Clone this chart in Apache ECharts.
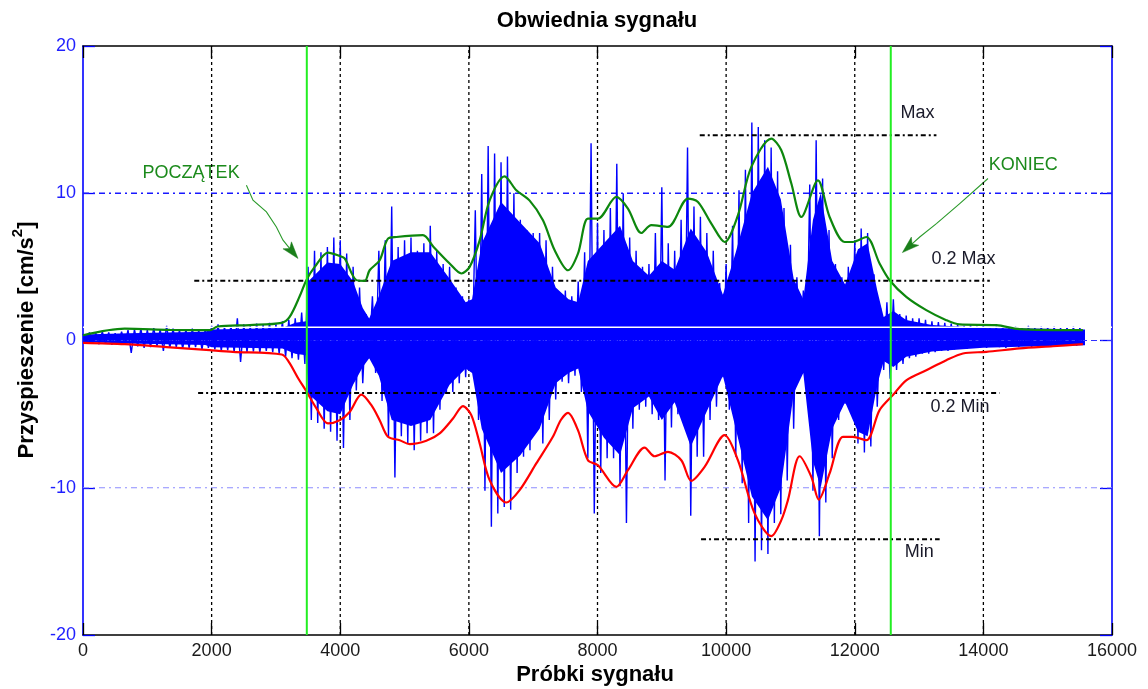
<!DOCTYPE html>
<html>
<head>
<meta charset="utf-8">
<script src="https://cdn.jsdelivr.net/npm/echarts@6/dist/echarts.min.js"></script>
<style>
  html, body { margin: 0; padding: 0; background: #ffffff; }
  #chart { width: 1148px; height: 689px; }
</style>
</head>
<body>
<div id="chart"></div>
<script>
// ---- signal: positive / negative peak of every 100-sample block ----
const blockSize = 100;
const peakHigh = [
  0.45, 0.55, 0.5, 0.6, 0.55, 0.5, 0.6, 0.7, 0.75, 0.8,
  0.7, 0.85, 0.75, 1.0, 0.8, 0.7, 0.75, 0.8, 0.7, 0.75,
  1.0, 1.1, 0.95, 1.05, 1.5, 1.1, 1.0, 1.15, 1.05, 1.2,
  1.1, 1.3, 1.4, 1.5, 1.9, 5.0, 6.1, 6.0, 6.35, 7.0,
  6.8, 5.9, 5.0, 3.6, 1.8, 3.0, 6.1, 6.8, 9.1, 6.35,
  6.8, 7.0, 6.1, 6.6, 7.8, 6.1, 5.2, 5.0, 3.6, 3.0,
  2.8, 8.85, 11.3, 13.2, 12.7, 12.1, 12.5, 10.0, 8.2, 7.5,
  7.3, 7.3, 6.8, 5.0, 3.1, 3.4, 3.0, 4.0, 6.0, 13.4,
  8.0, 7.5, 9.0, 12.0, 10.0, 7.0, 6.1, 5.0, 5.2, 7.3,
  10.4, 6.6, 6.1, 8.2, 13.1, 9.1, 8.4, 7.3, 6.1, 3.9,
  5.2, 7.8, 10.2, 11.6, 14.8, 14.5, 13.6, 13.1, 11.5, 9.0,
  6.5, 4.3, 3.4, 10.6, 13.6, 11.0, 7.5, 5.2, 4.3, 5.0,
  6.8, 7.6, 7.3, 4.5, 2.2, 2.6, 2.8, 1.8, 1.7, 1.5,
  1.5, 1.4, 1.3, 1.25, 1.2, 1.15, 1.1, 1.0, 1.05, 0.95,
  1.0, 0.9, 0.95, 1.0, 0.9, 0.95, 0.9, 1.0, 0.85, 0.95,
  0.9, 0.95, 0.85, 0.9, 0.95, 0.85
];
const peakLow = [
  -0.15, -0.2, -0.25, -0.2, -0.3, -0.2, -0.25, -0.85, -0.4, -0.5,
  -0.45, -0.4, -0.7, -0.5, -0.45, -0.55, -0.5, -0.45, -0.6, -0.5,
  -0.6, -0.7, -0.65, -0.8, -1.45, -0.8, -0.75, -0.85, -0.7, -0.8,
  -0.9, -1.1, -1.2, -1.3, -1.6, -5.4, -5.6, -6.0, -6.2, -6.8,
  -7.3, -5.4, -3.4, -2.9, -1.2, -2.2, -4.1, -6.5, -9.3, -6.5,
  -7.0, -7.45, -6.8, -6.3, -6.3, -4.7, -3.6, -3.5, -2.9, -2.5,
  -2.0, -5.4, -10.2, -12.65, -11.75, -11.3, -11.5, -9.0, -7.9, -7.45,
  -5.4, -7.0, -5.4, -4.0, -2.8, -2.9, -2.4, -3.5, -8.0, -11.75,
  -9.0, -8.0, -8.0, -9.9, -12.4, -6.0, -4.7, -4.5, -5.0, -5.4,
  -9.5, -5.9, -5.0, -5.4, -11.9, -7.9, -7.9, -5.4, -4.5, -2.5,
  -4.7, -7.9, -9.7, -12.4, -15.0, -14.25, -14.5, -12.4, -11.8, -9.5,
  -6.0, -1.8, -2.9, -10.2, -13.3, -11.0, -8.0, -5.4, -4.3, -4.0,
  -7.0, -7.6, -7.2, -4.5, -2.0, -2.6, -2.0, -1.6, -1.2, -1.1,
  -0.9, -0.9, -0.8, -0.7, -0.7, -0.6, -0.5, -0.55, -0.5, -0.45,
  -0.5, -0.4, -0.45, -0.5, -0.4, -0.45, -0.35, -0.45, -0.4, -0.35,
  -0.4, -0.3, -0.35, -0.3, -0.35, -0.3
];

// densely filled part of the trace [sample, upper edge, lower edge]
const bodySamples = [0, 700, 1900, 2000, 3100, 3300, 3470, 3500, 3800, 4000, 4200, 4350, 4450, 4600, 4800, 5100, 5400, 5700, 5950, 6050, 6200, 6500, 6800, 7100, 7350, 7550, 7700, 7850, 8100, 8350, 8550, 8800, 9000, 9200, 9450, 9700, 9950, 10150, 10400, 10650, 10850, 11050, 11200, 11350, 11470, 11650, 11850, 12050, 12200, 12350, 12450, 12600, 12800, 13200, 14000, 15000, 15580];
const bodyHigh = [0.4, 0.5, 0.6, 0.75, 0.85, 1.2, 1.3, 4.0, 5.3, 5.2, 4.0, 2.2, 1.5, 3.0, 5.4, 6.0, 6.0, 4.2, 2.6, 2.8, 6.6, 9.4, 8.0, 6.6, 3.6, 2.8, 2.6, 5.4, 6.6, 7.8, 5.4, 4.4, 5.4, 4.8, 7.6, 6.0, 3.1, 6.0, 10.0, 11.8, 9.6, 4.2, 2.8, 8.2, 10.0, 5.4, 3.8, 6.2, 6.6, 3.4, 1.6, 2.0, 1.4, 1.05, 0.85, 0.8, 0.75];
const bodyLow = [-0.1, -0.2, -0.3, -0.45, -0.55, -0.9, -1.0, -3.6, -4.8, -5.0, -3.0, -1.8, -1.2, -2.4, -5.4, -5.8, -5.4, -3.0, -1.9, -2.2, -6.0, -9.0, -7.8, -6.0, -2.9, -2.2, -1.9, -4.8, -6.6, -7.8, -4.6, -3.8, -5.4, -4.2, -7.2, -4.8, -2.4, -6.0, -10.6, -12.2, -10.0, -3.6, -2.2, -8.2, -10.0, -6.0, -4.2, -6.2, -6.5, -3.0, -1.4, -1.8, -1.1, -0.75, -0.5, -0.38, -0.32];

// ---- envelopes [sample, value] ----
const upperEnvelope = [
  [0, 0.36], [648, 0.8], [1351, 0.72], [1970, 0.7], [2094, 0.95], [2592, 1.05], [3090, 1.2],
  [3213, 1.6], [3369, 3.0], [3473, 4.1], [3603, 5.0], [3809, 5.97], [3991, 5.74], [4069, 5.57],
  [4251, 4.1], [4380, 4.05], [4457, 4.77], [4613, 5.45], [4742, 6.92], [4873, 7.03], [5286, 7.15],
  [5442, 6.4], [5701, 5.23], [5883, 4.55], [6012, 5.0], [6168, 6.8], [6323, 9.52], [6556, 11.15],
  [6738, 10.2], [6945, 9.5], [7152, 8.17], [7334, 6.13], [7541, 4.77], [7696, 5.9], [7851, 8.28],
  [8007, 8.28], [8293, 9.75], [8473, 8.96], [8682, 7.3], [8837, 7.83], [9095, 7.71], [9406, 9.64],
  [9562, 9.41], [9770, 7.94], [9977, 6.69], [10183, 8.5], [10392, 11.79], [10703, 13.71],
  [10858, 12.92], [11014, 10.66], [11169, 8.39], [11427, 10.88], [11609, 8.39], [11842, 6.69],
  [11971, 6.69], [12180, 7.03], [12386, 5.23], [12542, 4.09], [12801, 2.96], [13112, 2.06],
  [13423, 1.38], [13630, 1.09], [14201, 1.04], [14563, 0.77], [15547, 0.7]
];
const lowerEnvelope = [
  [0, -0.16], [650, -0.25], [1300, -0.45], [1970, -0.66], [2330, -0.77], [3090, -0.95],
  [3200, -1.45], [3350, -2.6], [3473, -3.45], [3628, -4.6], [3809, -5.63], [3991, -5.41],
  [4146, -4.85], [4328, -3.68], [4484, -4.39], [4613, -5.41], [4742, -6.54], [4924, -6.77],
  [5080, -7.04], [5339, -6.81], [5546, -6.31], [5753, -5.3], [5908, -4.46], [6038, -5.07],
  [6168, -6.99], [6323, -9.48], [6582, -11.0], [6789, -10.16], [7048, -8.35], [7306, -6.54],
  [7430, -5.4], [7541, -4.91], [7696, -6.09], [7851, -8.13], [8007, -8.47], [8293, -9.94],
  [8473, -8.81], [8733, -7.27], [8888, -7.86], [9095, -7.56], [9303, -8.13], [9458, -9.53],
  [9665, -8.58], [9977, -6.43], [10183, -8.13], [10443, -11.74], [10703, -13.29], [10858, -12.2],
  [10961, -10.84], [11143, -7.86], [11325, -9.26], [11440, -10.8], [11609, -9.03], [11816, -6.54],
  [11971, -6.54], [12180, -6.77], [12386, -4.73], [12593, -3.71], [12801, -2.7], [13112, -2.02],
  [13423, -1.34], [13682, -0.88], [14046, -0.77], [14563, -0.54], [15081, -0.39], [15547, -0.25]
];

// ---- event boundaries and reference levels ----
const eventStart = 3480;
const eventEnd = 12560;
const meanLevel = 0.9;
const levelMax = { value: 13.94, from: 9590, to: 13270 };
const levelMax02 = { value: 4.05, from: 1730, to: 14100 };
const levelMin02 = { value: -3.56, from: 1790, to: 14250 };
const levelMin = { value: -13.49, from: 9610, to: 13320 };

// ---- axes ----
const xMin = 0, xMax = 16000, xStep = 2000;
const yMin = -20, yMax = 20, yStep = 10;
const xGridTicks = [2000, 4000, 6000, 8000, 10000, 12000, 14000];
const yGridTicks = [-10, 0, 10];

const FONT = "'Liberation Sans', Arial, sans-serif";

// the trace swings from the positive peak to the negative peak of each block
const trace = [];
for (let i = 0; i < peakHigh.length; i++) {
  trace.push([i * blockSize, peakHigh[i]]);
  trace.push([i * blockSize + blockSize / 2, peakLow[i]]);
}
const bodyUp = bodySamples.map((s, i) => [s, bodyHigh[i]]);
const bodyDown = bodySamples.map((s, i) => [s, bodyLow[i]]);

function segment(name, pts, style, z) {
  return {
    name, type: 'line', data: pts, symbol: 'none', silent: true,
    animation: false, lineStyle: style, z
  };
}

const series = [];
// grid lines
xGridTicks.forEach(t => series.push(segment('gx' + t, [[t, yMin], [t, yMax]],
  { color: '#000', width: 1.3, type: [3, 3] }, 1)));
const yGridStyles = {
  '-10': { color: '#8c8cff', width: 1, type: [6, 4, 2, 4] },
  '0': { color: '#3030ff', width: 1.2, type: [6, 4, 2, 4] },
  '10': { color: '#1818ff', width: 1.3, type: [6, 4, 2, 4] }
};
yGridTicks.forEach(t => series.push(segment('gy' + t, [[xMin, t], [xMax, t]], yGridStyles[String(t)], 1)));

// signal body and trace
[['bodyUp', bodyUp], ['bodyDown', bodyDown]].forEach(([n, d]) => series.push({
  name: n, type: 'line', data: d, symbol: 'none', silent: true, animation: false,
  lineStyle: { width: 0 }, areaStyle: { color: '#0000ff', opacity: 1, origin: 0 }, z: 2
}));
series.push({
  name: 'trace', type: 'line', data: trace, symbol: 'none', silent: true, animation: false,
  sampling: null, lineStyle: { color: '#0000ff', width: 1.4, join: 'bevel' }, z: 2
});
series.push(segment('mean', [[xMin, meanLevel], [xMax, meanLevel]], { color: '#ffffff', width: 1.5 }, 3));

// reference levels
[levelMax, levelMax02, levelMin02, levelMin].forEach((L, k) => series.push(segment('lvl' + k,
  [[L.from, L.value], [L.to, L.value]], { color: '#000', width: 2, type: [5, 3, 2, 3] }, 4)));

// envelopes
series.push({ name: 'upper', type: 'line', data: upperEnvelope, symbol: 'none', smooth: 0.3,
  silent: true, animation: false, lineStyle: { color: '#0d870d', width: 2.2 }, z: 5 });
series.push({ name: 'lower', type: 'line', data: lowerEnvelope, symbol: 'none', smooth: 0.3,
  silent: true, animation: false, lineStyle: { color: '#ff0000', width: 2.2 }, z: 5 });

// event boundaries
[eventStart, eventEnd].forEach((t, k) => series.push(segment('event' + k, [[t, yMin], [t, yMax]],
  { color: '#22ee22', width: 2 }, 6)));

const chart = echarts.init(document.getElementById('chart'), null, { renderer: 'canvas' });

const plain = v => String(v);
const tickLabelX = { fontFamily: FONT, fontSize: 18, color: '#1a1a1a', margin: 7, formatter: plain };
const tickLabelY = { fontFamily: FONT, fontSize: 18, color: '#1f1fff', margin: 7, formatter: plain };

function axisBase(extra) {
  return Object.assign({ type: 'value', splitLine: { show: false } }, extra);
}

const option = {
  backgroundColor: '#ffffff',
  animation: false,
  grid: { left: 83, right: 36, top: 46, bottom: 54, containLabel: false },
  xAxis: [
    axisBase({ min: xMin, max: xMax, interval: xStep, position: 'bottom',
      axisLine: { onZero: false, lineStyle: { color: '#000', width: 1.6 } },
      axisTick: { inside: true, length: 12, lineStyle: { color: '#000', width: 1.3 } },
      axisLabel: tickLabelX }),
    axisBase({ min: xMin, max: xMax, interval: xStep, position: 'top',
      axisLine: { onZero: false, lineStyle: { color: '#000', width: 1.6 } },
      axisTick: { inside: true, length: 12, lineStyle: { color: '#000', width: 1.3 } },
      axisLabel: { show: false } })
  ],
  yAxis: [
    axisBase({ min: yMin, max: yMax, interval: yStep, position: 'left',
      axisLine: { show: true, onZero: false, lineStyle: { color: '#0000ff', width: 1.6 } },
      axisTick: { show: true, inside: true, length: 12, lineStyle: { color: '#0000ff', width: 1.3 } },
      axisLabel: tickLabelY }),
    axisBase({ min: yMin, max: yMax, interval: yStep, position: 'right',
      axisLine: { show: true, onZero: false, lineStyle: { color: '#0000ff', width: 1.6 } },
      axisTick: { show: true, inside: true, length: 12, lineStyle: { color: '#0000ff', width: 1.3 } },
      axisLabel: { show: false } })
  ],
  series: series.map(s => Object.assign({ xAxisIndex: 0, yAxisIndex: 0 }, s))
};
chart.setOption(option);

// ---- text and arrows ----
function toPx(p) { return chart.convertToPixel({ gridIndex: 0 }, p); }

const annotations = [
  { text: 'POCZĄTEK', at: [927, 11.36], color: '#1b8a1b' },
  { text: 'KONIEC', at: [14083, 11.9], color: '#1b8a1b' },
  { text: 'Max', at: [12710, 15.43], color: '#1a1a2a' },
  { text: '0.2 Max', at: [13192, 5.52], color: '#1a1a2a' },
  { text: '0.2 Min', at: [13177, -4.53], color: '#1a1a2a' },
  { text: 'Min', at: [12777, -14.35], color: '#1a1a2a' }
];
const arrows = [
  [[2541, 10.54], [2643, 9.53], [2852, 8.73], [3007, 7.71], [3110, 6.81], [3343, 5.57]],
  [[14072, 11.0], [13632, 9.30], [13270, 7.94], [13010, 7.03], [12741, 5.97]]
];

const graphics = [];
graphics.push({ type: 'text', x: 597, y: 21, silent: true,
  style: { text: 'Obwiednia sygnału', font: 'bold 22px ' + FONT, fill: '#000',
    textAlign: 'center', textVerticalAlign: 'middle' } });
graphics.push({ type: 'text', x: 595, y: 675, silent: true,
  style: { text: 'Próbki sygnału', font: 'bold 22px ' + FONT, fill: '#000',
    textAlign: 'center', textVerticalAlign: 'middle' } });
graphics.push({ type: 'text', x: 24, y: 340, rotation: Math.PI / 2, silent: true,
  style: {
    text: '{a|Przyspieszenie [cm/s}{b|2}{a|]}',
    textAlign: 'center', textVerticalAlign: 'middle',
    rich: {
      a: { fontFamily: FONT, fontWeight: 'bold', fontSize: 22, color: '#1010ff', lineHeight: 28, verticalAlign: 'bottom' },
      b: { fontFamily: FONT, fontWeight: 'bold', fontSize: 15, color: '#1010ff', lineHeight: 28, verticalAlign: 'top' }
    }
  } });

annotations.forEach(a => {
  const p = toPx(a.at);
  graphics.push({ type: 'text', x: p[0], y: p[1], silent: true,
    style: { text: a.text, font: '18px ' + FONT, fill: a.color,
      textAlign: 'left', textVerticalAlign: 'middle' } });
});

arrows.forEach(path => {
  const pts = path.map(toPx);
  const tip = pts[pts.length - 1];
  const prev = pts[pts.length - 2];
  const dx = tip[0] - prev[0], dy = tip[1] - prev[1];
  const len = Math.hypot(dx, dy);
  const ux = dx / len, uy = dy / len;
  const L = 17, W = 5.5;
  const base = [tip[0] - ux * L, tip[1] - uy * L];
  const line = pts.slice(0, -1).concat([[tip[0] - ux * L * 0.7, tip[1] - uy * L * 0.7]]);
  graphics.push({ type: 'polyline', silent: true, shape: { points: line },
    style: { stroke: '#2a9a2a', lineWidth: 1.1, fill: null } });
  graphics.push({ type: 'polygon', silent: true,
    shape: { points: [tip, [base[0] - uy * W, base[1] + ux * W], [base[0] + ux * 4, base[1] + uy * 4], [base[0] + uy * W, base[1] - ux * W]] },
    style: { fill: '#1a7f1a', stroke: '#1a7f1a', lineWidth: 0.5 } });
});

chart.setOption({ graphic: { elements: graphics } });
</script>
</body>
</html>
